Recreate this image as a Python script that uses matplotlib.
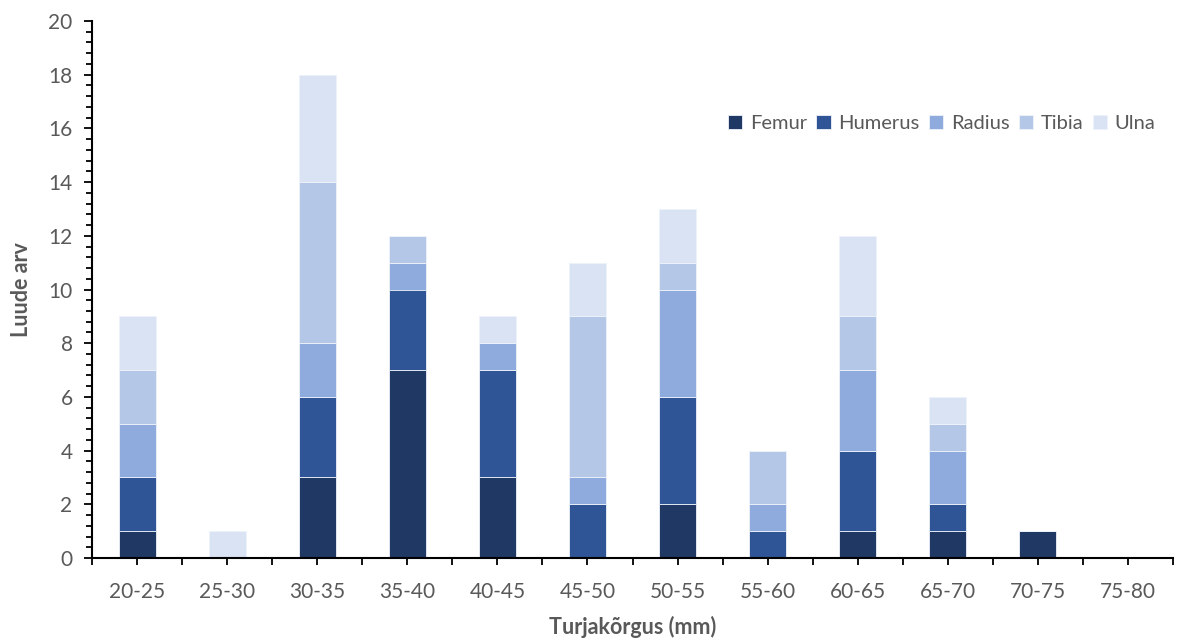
import numpy as np
import matplotlib
matplotlib.use("Agg")
from matplotlib import pyplot as plt
from matplotlib.ticker import MultipleLocator, FixedLocator

plt.rcParams["font.family"] = ["Lato", "DejaVu Sans"]

# andmed: luude arv turjakõrguse vahemike kaupa
categories = ["20-25", "25-30", "30-35", "35-40", "40-45", "45-50",
              "50-55", "55-60", "60-65", "65-70", "70-75", "75-80"]
femur = [1, 0, 3, 7, 3, 0, 2, 0, 1, 1, 1, 0]
humerus = [2, 0, 3, 3, 4, 2, 4, 1, 3, 1, 0, 0]
radius = [2, 0, 2, 1, 1, 1, 4, 1, 3, 2, 0, 0]
tibia = [2, 0, 6, 1, 0, 6, 1, 2, 2, 1, 0, 0]
ulna = [2, 1, 4, 0, 1, 2, 2, 0, 3, 1, 0, 0]

series = [("Femur", femur, "#203864"),
          ("Humerus", humerus, "#2F5597"),
          ("Radius", radius, "#8FAADC"),
          ("Tibia", tibia, "#B4C7E7"),
          ("Ulna", ulna, "#DAE3F3")]

grey = "#595959"

fig = plt.figure(figsize=(11.89, 6.43), dpi=100)
ax = fig.add_axes([92 / 1189, 1 - 558 / 643, (1173 - 92) / 1189, (558 - 21) / 643])

x = np.arange(len(categories))
bottom = np.zeros(len(categories))
for name, vals, color in series:
    vals = np.array(vals, dtype=float)
    ax.bar(x, vals, width=0.41, bottom=bottom, color=color, label=name,
           edgecolor="#EEF2FA", linewidth=0.6)
    bottom += vals

ax.set_xlim(-0.5, len(categories) - 0.5)
ax.set_ylim(0, 20)

ax.set_xticks(x)
ax.set_xticklabels(categories)
ax.xaxis.set_minor_locator(FixedLocator(np.arange(-0.5, len(categories), 1.0)))
ax.yaxis.set_major_locator(MultipleLocator(2))
ax.yaxis.set_minor_locator(MultipleLocator(0.4))

for side in ["top", "right"]:
    ax.spines[side].set_visible(False)
for side in ["left", "bottom"]:
    ax.spines[side].set_linewidth(1.5)
    ax.spines[side].set_color("black")

ax.tick_params(axis="both", which="both", direction="out", width=1.3,
               color="black", labelcolor=grey, labelsize=15)
ax.tick_params(axis="x", which="both", length=5, pad=12)
ax.tick_params(axis="y", which="major", length=6, pad=8)
ax.tick_params(axis="y", which="minor", length=4)

ax.set_xlabel("Turjakõrgus (mm)", fontsize=15.5, fontweight="bold", color=grey, labelpad=10)
ax.set_ylabel("Luude arv", fontsize=15.5, fontweight="bold", color=grey, labelpad=12)

ax.legend(loc="upper right", bbox_to_anchor=(0.995, 0.847), ncol=5, frameon=False,
          fontsize=14.5, labelcolor=grey, handlelength=0.7, handleheight=0.7,
          handletextpad=0.4, columnspacing=0.45, borderaxespad=0.2)

fig.savefig("out.png", dpi=100)
